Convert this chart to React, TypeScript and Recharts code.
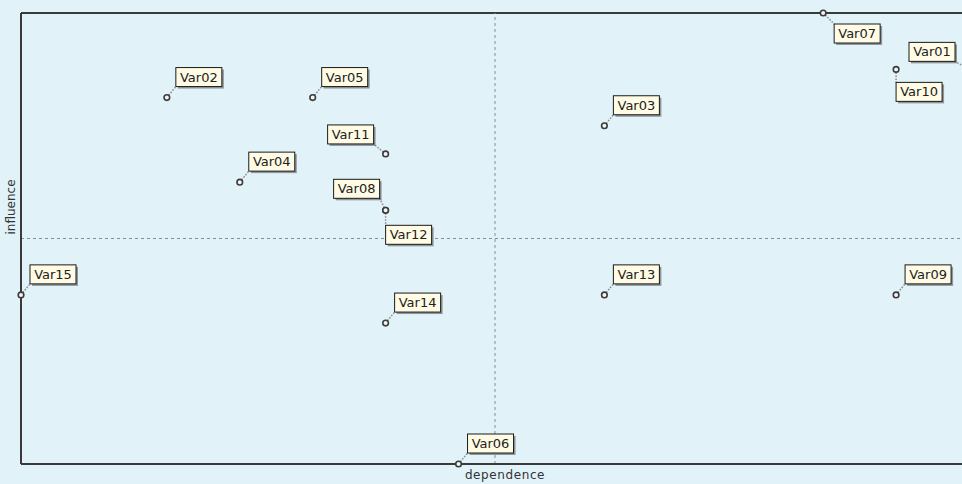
import { ScatterChart, Scatter, XAxis, YAxis, ReferenceLine } from 'recharts';

// variables, dependence (x) and influence (y)
const NAMES = ['Var01', 'Var02', 'Var03', 'Var04', 'Var05', 'Var06', 'Var07', 'Var08', 'Var09', 'Var10', 'Var11', 'Var12', 'Var13', 'Var14', 'Var15'];
const DEPENDENCE = [13, 2, 8, 3, 4, 6, 11, 5, 12, 12, 5, 5, 8, 5, 0];
const INFLUENCE = [14, 13, 12, 10, 13, 0, 16, 9, 6, 14, 11, 9, 6, 5, 6];

const X_MID = 6.5;
const Y_MID = 8;

// where each tag sits relative to its point (top-left corner, px)
const TAG_OFFSET: Record<string, [number, number]> = {
  Var01: [-60, -27],
  Var07: [11, 11],
  Var08: [-52, -31],
  Var10: [0, 13],
  Var11: [-58, -29],
  Var12: [0, 15],
};
const TAG_W = 46;
const TAG_H = 19;
const BG = '#e1f2f8';
const FONT = 'Tahoma, "DejaVu Sans", sans-serif';

const data = NAMES.map((name, i) => ({ name, x: DEPENDENCE[i], y: INFLUENCE[i] }));

function TaggedPoint(props: any) {
  const { cx, cy, payload } = props;
  if (cx == null || cy == null) return null;
  const [dx, dy] = TAG_OFFSET[payload.name] ?? [9, -30];
  const bx = cx + dx;
  const by = cy + dy;
  // nearest point of the tag box to the dot
  const ax = Math.min(Math.max(cx, bx), bx + TAG_W);
  const ay = Math.min(Math.max(cy, by), by + TAG_H);
  return (
    <g>
      <line x1={cx} y1={cy} x2={ax} y2={ay} stroke="#8a8a8a" strokeWidth={1.5} strokeDasharray="1.5 1.5" />
      <rect x={bx + 2} y={by + 2} width={TAG_W} height={TAG_H} fill="#4d4d4d" opacity={0.55} />
      <rect x={bx} y={by} width={TAG_W} height={TAG_H} fill="#fffbe4" stroke="#1a1a1a" strokeWidth={1} />
      <text x={bx + TAG_W / 2} y={by + 14} textAnchor="middle" fontSize={13} fontFamily={FONT} fill="#222">
        {payload.name}
      </text>
      <circle cx={cx} cy={cy} r={2.8} fill="#f4f4f4" stroke="#3c3c3c" strokeWidth={1.6} />
    </g>
  );
}

export default function App() {
  return (
    <div style={{ position: 'fixed', left: 0, top: 0, width: 962, height: 484, overflow: 'hidden', background: BG }}>
      <ScatterChart width={990} height={484} margin={{ top: 13, right: 21, bottom: 0, left: 0 }}>
        <XAxis
          type="number"
          dataKey="x"
          domain={[0, 13]}
          height={20}
          tick={false}
          tickLine={false}
          axisLine={{ stroke: '#3a3a3a', strokeWidth: 2 }}
          label={{
            content: (p: any) => (
              <text x={505} y={479} textAnchor="middle" fontSize={12} fontFamily={FONT} fill="#333" letterSpacing={0.6}>
                dependence
              </text>
            ),
          }}
        />
        <YAxis
          type="number"
          dataKey="y"
          domain={[0, 16]}
          width={21}
          tick={false}
          tickLine={false}
          axisLine={{ stroke: '#3a3a3a', strokeWidth: 2 }}
          label={{
            content: () => (
              <text x={11} y={207} transform="rotate(-90 11 207)" textAnchor="middle" dominantBaseline="central" fontSize={12} fontFamily={FONT} fill="#333">
                influence
              </text>
            ),
          }}
        />
        <ReferenceLine y={16} stroke="#3a3a3a" strokeWidth={2} />
        <ReferenceLine x={X_MID} stroke="#8c8c8c" strokeDasharray="3 3" />
        <ReferenceLine y={Y_MID} stroke="#8c8c8c" strokeDasharray="3 3" />
        <Scatter data={data} shape={TaggedPoint} isAnimationActive={false} />
      </ScatterChart>
    </div>
  );
}
